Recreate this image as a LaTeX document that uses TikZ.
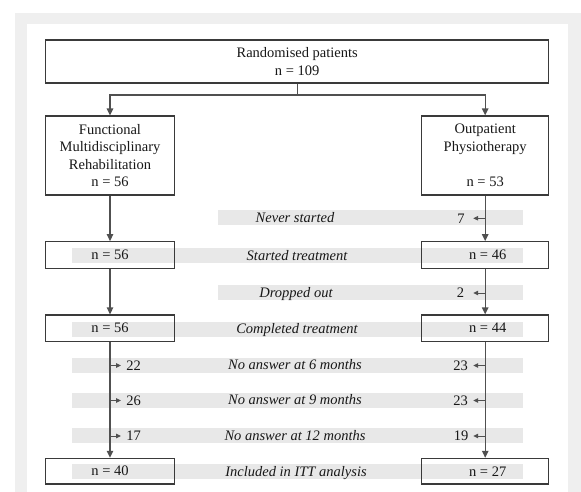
\documentclass[tikz,border=0pt]{standalone}
\usepackage{fontspec}
\setmainfont{Liberation Serif}
\usetikzlibrary{arrows.meta,calc}
\definecolor{framegray}{HTML}{EFEFEF}
\definecolor{bandgray}{HTML}{E8E8E8}
\definecolor{boxline}{HTML}{3A3A3A}
\definecolor{flowline}{HTML}{505050}
\definecolor{txt}{HTML}{181818}
\newcommand\figfont{\fontsize{14.5}{17.5}\selectfont}
\tikzset{
  box/.style={draw=boxline, line width=1.2pt, inner sep=0pt, align=center, font=\figfont, text=txt},
  band/.style={fill=bandgray, draw=none, inner sep=0pt, minimum height=15pt},
  lab/.style={font=\figfont\itshape, text=txt, inner sep=0pt, text height=9.5pt, text depth=0pt},
  num/.style={font=\figfont, text=txt, inner sep=0pt, text height=9.5pt, text depth=0pt},
  flow/.style={draw=flowline, line width=1.3pt, -{Triangle[length=7pt,width=6.5pt]}},
  side/.style={draw=flowline, line width=1pt, -{Triangle[length=5pt,width=4.5pt]}}
}
\begin{document}
\begin{tikzpicture}[x=1pt,y=-1pt]
\useasboundingbox (0,0) rectangle (581,492);
% background frame
\fill[framegray] (15,13) rectangle (581,492);
\fill[white] (27,24) rectangle (568,492);
% bands
\node[band, minimum width=305pt] (b1) at (370.5,217.8) {};
\node[band, minimum width=451pt] (b2) at (297.2,255.5) {};
\node[band, minimum width=305pt] (b3) at (370.5,292.5) {};
\node[band, minimum width=451pt] (b4) at (297.2,329.2) {};
\node[band, minimum width=451pt] (b5) at (297.2,365.0) {};
\node[band, minimum width=451pt] (b6) at (297.2,400.0) {};
\node[band, minimum width=451pt] (b7) at (297.2,435.5) {};
\node[band, minimum width=451pt] (b8) at (297.2,471.7) {};
% boxes
\node[box, minimum width=503pt, minimum height=43pt] (top) at (297.2,61.5) {Randomised patients\\n = 109};
\node[box, minimum width=128.6pt, minimum height=79pt] (fmr) at (110,155.5) {Functional\\Multidisciplinary\\Rehabilitation\\n = 56};
\node[box, minimum width=127pt, minimum height=79pt] (op) at (485.2,155.5) {Outpatient\\Physiotherapy\\[17.5pt]n = 53};
\node[box, minimum width=128.6pt, minimum height=26.6pt] (l2) at (110,255) {n = 56};
\node[box, minimum width=127pt, minimum height=26.6pt] (r2) at (485.2,255) {\hspace*{5pt}n = 46};
\node[box, minimum width=128.6pt, minimum height=26.5pt] (l3) at (110,328.2) {n = 56};
\node[box, minimum width=127pt, minimum height=26.5pt] (r3) at (485.2,328.2) {\hspace*{5pt}n = 44};
\node[box, minimum width=128.6pt, minimum height=25.7pt] (l4) at (110,471.2) {n = 40};
\node[box, minimum width=127pt, minimum height=25.7pt] (r4) at (485.2,471.2) {\hspace*{5pt}n = 27};
% band labels
\node[lab] (t1) at (295,217.8) {Never started};
\node[lab] (t2) at (297,255.5) {Started treatment};
\node[lab] (t3) at (296,292.5) {Dropped out};
\node[lab] (t4) at (297,329.2) {Completed treatment};
\node[lab] (t5) at (295,365.0) {No answer at 6 months};
\node[lab] (t6) at (295,400.0) {No answer at 9 months};
\node[lab] (t7) at (295,435.5) {No answer at 12 months};
\node[lab] (t8) at (296,471.7) {Included in ITT analysis};
% numbers
\node[num] (n7) at (461,218.3) {7};
\node[num] (n2) at (460.5,293) {2};
\node[num] (n23a) at (460.5,365.5) {23};
\node[num] (n23b) at (460.5,400.5) {23};
\node[num] (n19) at (461,436) {19};
\node[num] (n22) at (133.5,365.5) {22};
\node[num] (n26) at (133.5,400.5) {26};
\node[num] (n17) at (133.5,436) {17};
% main flow
\coordinate (split) at (297.2,95);
\draw[flow] (top.south) -- (split) -| (fmr.north);
\draw[flow] (split) -| (op.north);
\draw[flow] (fmr.south) -- (l2.north);
\draw[flow] (l2.south) -- (l3.north);
\draw[flow] (l3.south) -- (l4.north);
\draw[flow] (op.south) -- (r2.north);
\draw[flow] (r2.south) -- (r3.north);
\draw[flow] (r3.south) -- (r4.north);
% side arrows
\path (op.south |- n7) coordinate (s7) ([xshift=-12pt]s7) coordinate (e7);
\path (r2.south |- n2) coordinate (s2) ([xshift=-12pt]s2) coordinate (e2);
\path (r3.south |- n23a) coordinate (s23a) ([xshift=-12pt]s23a) coordinate (e23a);
\path (r3.south |- n23b) coordinate (s23b) ([xshift=-12pt]s23b) coordinate (e23b);
\path (r3.south |- n19) coordinate (s19) ([xshift=-12pt]s19) coordinate (e19);
\path (l3.south |- n22) coordinate (s22) ([xshift=11pt]s22) coordinate (e22);
\path (l3.south |- n26) coordinate (s26) ([xshift=11pt]s26) coordinate (e26);
\path (l3.south |- n17) coordinate (s17) ([xshift=11pt]s17) coordinate (e17);
\foreach \k in {7,2,23a,23b,19,22,26,17} {\draw[side] (s\k) -- (e\k);}
\end{tikzpicture}
\end{document}
